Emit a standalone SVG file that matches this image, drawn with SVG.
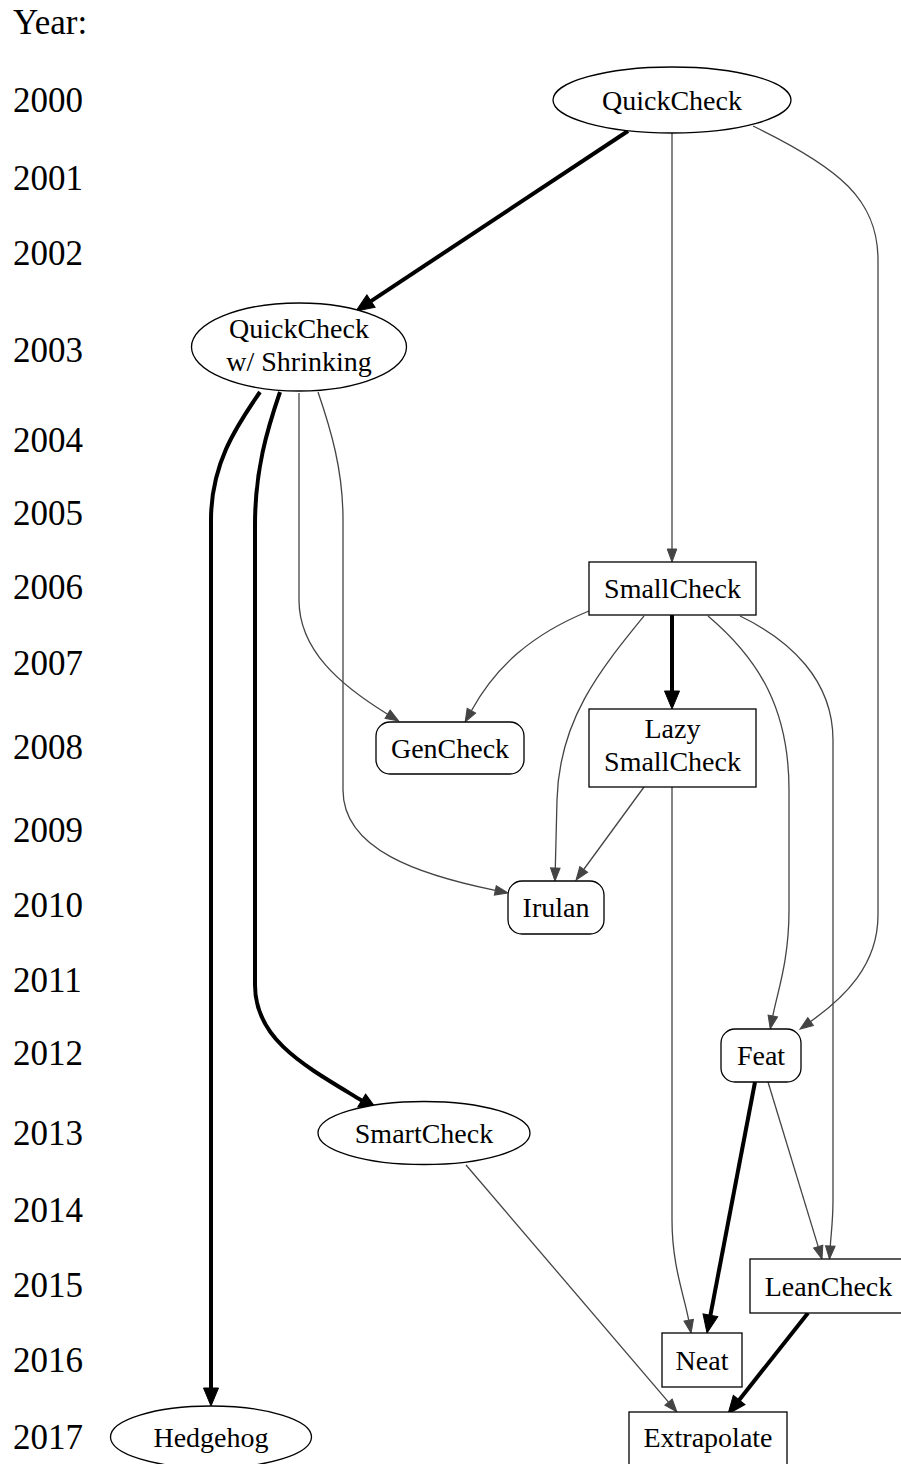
<svg xmlns="http://www.w3.org/2000/svg" width="901" height="1464" viewBox="0 0 901 1464">
<style>
text{font-family:"Liberation Serif","Times New Roman",serif;fill:#000}
.yr{font-size:35px}
.lbl{font-size:28px;text-anchor:middle}
.node{fill:#fff;stroke:#000;stroke-width:1.3}
.thin{fill:none;stroke:#444;stroke-width:1.3}
.thick{fill:none;stroke:#000;stroke-width:4}
</style>
<defs>
<marker id="ah" viewBox="0 -6 14 12" markerWidth="14" markerHeight="12" refX="0" refY="0" orient="auto" markerUnits="userSpaceOnUse" overflow="visible">
<path d="M0,-4.8 L13,0 L0,4.8 Z" fill="#444" stroke="#444" stroke-width="1"/>
</marker>
<marker id="ahb" viewBox="0 -8 19 16" markerWidth="19" markerHeight="16" refX="0" refY="0" orient="auto" markerUnits="userSpaceOnUse" overflow="visible">
<path d="M0,-7.5 L18,0 L0,7.5 Z" fill="#000" stroke="#000" stroke-width="1"/>
</marker>
</defs>
<rect width="901" height="1464" fill="#fff"/>
<g id="years">
<text class="yr" x="13" y="34">Year:</text>
<text class="yr" x="13" y="112">2000</text>
<text class="yr" x="13" y="190">2001</text>
<text class="yr" x="13" y="265">2002</text>
<text class="yr" x="13" y="362">2003</text>
<text class="yr" x="13" y="452">2004</text>
<text class="yr" x="13" y="525">2005</text>
<text class="yr" x="13" y="599">2006</text>
<text class="yr" x="13" y="675">2007</text>
<text class="yr" x="13" y="759">2008</text>
<text class="yr" x="13" y="842">2009</text>
<text class="yr" x="13" y="917">2010</text>
<text class="yr" x="13" y="992">2011</text>
<text class="yr" x="13" y="1065">2012</text>
<text class="yr" x="13" y="1145">2013</text>
<text class="yr" x="13" y="1222">2014</text>
<text class="yr" x="13" y="1297">2015</text>
<text class="yr" x="13" y="1372">2016</text>
<text class="yr" x="13" y="1449">2017</text>
</g>
<g id="connectors">
<path class="thick" marker-end="url(#ahb)" d="M628,131 L371,301.1"/>
<path class="thin" marker-end="url(#ah)" d="M672,133 L672,549"/>
<path class="thin" marker-end="url(#ah)" d="M753,126 C840,168 878,200 878,260 L878,915 C878,965 845,997 810.6,1021.5"/>
<path class="thick" marker-end="url(#ahb)" d="M260,392 C235,428 211,465 211,520 L211,1388"/>
<path class="thick" marker-end="url(#ahb)" d="M280,392 C267,430 255,470 255,525 L255,985 C255,1040 305,1066 361.7,1100.5"/>
<path class="thin" marker-end="url(#ah)" d="M299,393 L299,600 C299,650 340,685 387.6,714.2"/>
<path class="thin" marker-end="url(#ah)" d="M318,392 C331,430 343,470 343,520 L343,790 C343,850 420,875 495.3,890.4"/>
<path class="thin" marker-end="url(#ah)" d="M589,611 C530,635 495,668 471.4,710.7"/>
<path class="thin" marker-end="url(#ah)" d="M644,616 C600,670 559,720 557,800 L555.3,868"/>
<path class="thick" marker-end="url(#ahb)" d="M672,615 L672,691"/>
<path class="thin" marker-end="url(#ah)" d="M708,616 C760,660 789,710 789,790 L789,910 C789,960 778,990 772.8,1016"/>
<path class="thin" marker-end="url(#ah)" d="M740,616 C790,640 833,680 833,740 L833,1200 C833,1220 831,1235 830.3,1246"/>
<path class="thin" marker-end="url(#ah)" d="M644,787 L583.7,869.5"/>
<path class="thin" marker-end="url(#ah)" d="M672,787 L672,1220 C672,1265 684,1295 688.7,1320.2"/>
<path class="thick" marker-end="url(#ahb)" d="M755,1082 L710.4,1315.3"/>
<path class="thin" marker-end="url(#ah)" d="M768,1082 L818.2,1246.6"/>
<path class="thick" marker-end="url(#ahb)" d="M808,1313 L739.2,1399.9"/>
<path class="thin" marker-end="url(#ah)" d="M466,1165 L668.5,1402.1"/>
</g>
<g id="QuickCheck">
<ellipse class="node" cx="672" cy="100" rx="119" ry="33"/>
<text class="lbl" x="672" y="110">QuickCheck</text>
</g>
<g id="QuickCheckShrinking">
<ellipse class="node" cx="299" cy="347" rx="107.5" ry="44"/>
<text class="lbl" x="299" y="338">QuickCheck</text>
<text class="lbl" x="299" y="371">w/ Shrinking</text>
</g>
<g id="SmallCheck">
<rect class="node" x="589" y="562" width="167" height="53"/>
<text class="lbl" x="672.5" y="598">SmallCheck</text>
</g>
<g id="GenCheck">
<rect class="node" x="376" y="722" width="148" height="52" rx="14"/>
<text class="lbl" x="450" y="758">GenCheck</text>
</g>
<g id="LazySmallCheck">
<rect class="node" x="589" y="709" width="167" height="78"/>
<text class="lbl" x="672.5" y="738">Lazy</text>
<text class="lbl" x="672.5" y="771">SmallCheck</text>
</g>
<g id="Irulan">
<rect class="node" x="508" y="881" width="96" height="53" rx="14"/>
<text class="lbl" x="556" y="917">Irulan</text>
</g>
<g id="Feat">
<rect class="node" x="721" y="1029" width="80" height="53" rx="14"/>
<text class="lbl" x="761" y="1065">Feat</text>
</g>
<g id="SmartCheck">
<ellipse class="node" cx="424" cy="1133" rx="106" ry="31.5"/>
<text class="lbl" x="424" y="1143">SmartCheck</text>
</g>
<g id="LeanCheck">
<rect class="node" x="750" y="1259" width="157" height="54"/>
<text class="lbl" x="828.5" y="1296">LeanCheck</text>
</g>
<g id="Neat">
<rect class="node" x="662" y="1333" width="80" height="54"/>
<text class="lbl" x="702" y="1370">Neat</text>
</g>
<g id="Hedgehog">
<ellipse class="node" cx="211" cy="1437" rx="100.5" ry="31"/>
<text class="lbl" x="211" y="1447">Hedgehog</text>
</g>
<g id="Extrapolate">
<rect class="node" x="629" y="1412" width="158" height="56"/>
<text class="lbl" x="708" y="1447">Extrapolate</text>
</g>
</svg>
